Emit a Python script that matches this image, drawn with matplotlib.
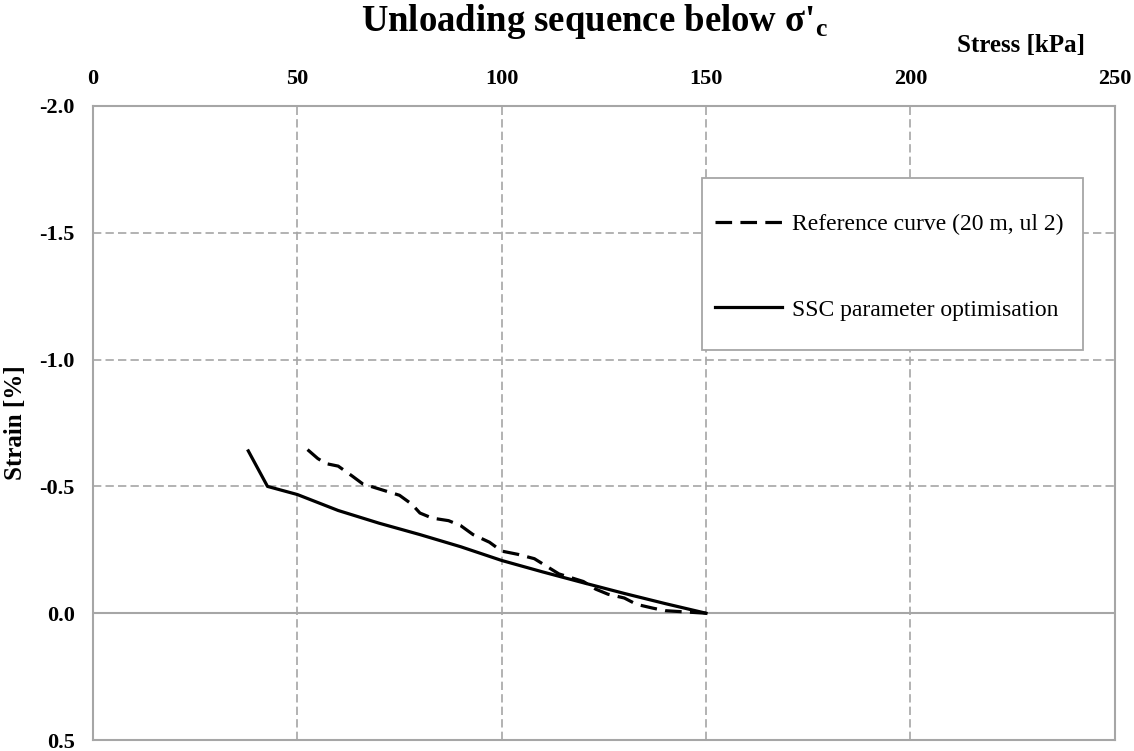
import matplotlib
matplotlib.use("Agg")
import matplotlib.pyplot as plt
from matplotlib.patches import Rectangle

plt.rcParams['font.family'] = ['Liberation Serif', 'DejaVu Serif']
plt.rcParams['mathtext.fontset'] = 'custom'
plt.rcParams['mathtext.rm'] = 'Liberation Serif'
plt.rcParams['mathtext.bf'] = 'Liberation Serif:bold'
plt.rcParams['mathtext.it'] = 'Liberation Serif:italic'

# Data
ref_stress = [52.5, 55, 57, 60, 63.5, 66, 70, 75, 78, 80, 83, 87, 90, 93, 97,
              100, 104, 108, 111, 114, 117, 120, 123, 126, 130, 133, 137, 140, 145, 150]
ref_strain = [-0.645, -0.61, -0.59, -0.58, -0.54, -0.51, -0.49, -0.465, -0.43, -0.395,
              -0.375, -0.365, -0.345, -0.31, -0.28, -0.245, -0.232, -0.215, -0.185,
              -0.155, -0.14, -0.125, -0.095, -0.075, -0.06, -0.035, -0.02, -0.01, -0.005, 0.0]

ssc_stress = [38, 42.7, 50, 60, 70, 80, 90, 100, 110, 120, 130, 140, 150]
ssc_strain = [-0.64, -0.50, -0.468, -0.405, -0.355, -0.31, -0.262, -0.208, -0.163,
              -0.12, -0.078, -0.038, 0.0]

x_ticks = [0, 50, 100, 150, 200, 250]
y_ticks = [-2.0, -1.5, -1.0, -0.5, 0.0, 0.5]

ref_label = "Reference curve (20 m, ul 2)"
ssc_label = "SSC parameter optimisation"

fig = plt.figure(figsize=(11.34, 7.51), dpi=100)
ax = fig.add_axes([0.082, 0.0146, 0.901, 0.8443])

grid_c = '#A6A6A6'
ax.set_xlim(0, 250)
ax.set_ylim(0.5, -2.0)
ax.set_xticks(x_ticks)
ax.set_yticks(y_ticks)
ax.set_yticklabels([f"{v:.1f}" for v in y_ticks])
ax.xaxis.tick_top()
ax.tick_params(axis='both', length=0, labelsize=16)
ax.tick_params(axis='x', pad=12)
ax.tick_params(axis='y', pad=13)
for lab in ax.get_xticklabels() + ax.get_yticklabels():
    lab.set_fontweight('bold')

grid_ls = (0, (5, 2.5))
for v in [50, 100, 150, 200]:
    ax.axvline(v, color=grid_c, lw=1.2, ls=grid_ls, zorder=0)
for v in [-1.5, -1.0, -0.5]:
    ax.axhline(v, color=grid_c, lw=1.2, ls=grid_ls, zorder=0)
ax.axhline(0.0, color=grid_c, lw=1.5, zorder=0)

for s in ax.spines.values():
    s.set_color(grid_c)
    s.set_linewidth(1.5)

dash = (0, (5.2, 2.6))
ax.plot(ref_stress, ref_strain, color='black', lw=2.3, ls=dash, label=ref_label)
ax.plot(ssc_stress, ssc_strain, color='black', lw=2.3, ls='-', label=ssc_label)

# legend frame
ax.add_patch(Rectangle((0.596, 0.615), 0.373, 0.271, transform=ax.transAxes,
                       facecolor='white', edgecolor=grid_c, lw=1.3, zorder=4))
leg = ax.legend(loc='upper left', bbox_to_anchor=(0.609, 0.830), fontsize=17,
                frameon=False, labelspacing=2.7, borderpad=0, handlelength=2.84,
                handletextpad=0.42, borderaxespad=0)
leg.set_zorder(5)

fig.text(0.524, 0.972, "Unloading sequence below σ'$_\\mathbf{c}$", ha='center', va='center',
         fontsize=26.5, fontweight='bold')
fig.text(0.900, 0.940, "Stress [kPa]", ha='center', va='center', fontsize=18, fontweight='bold')
fig.text(0.014, 0.437, "Strain [%]", ha='center', va='center', rotation=90,
         fontsize=18, fontweight='bold')

fig.savefig("out.png", dpi=100)
